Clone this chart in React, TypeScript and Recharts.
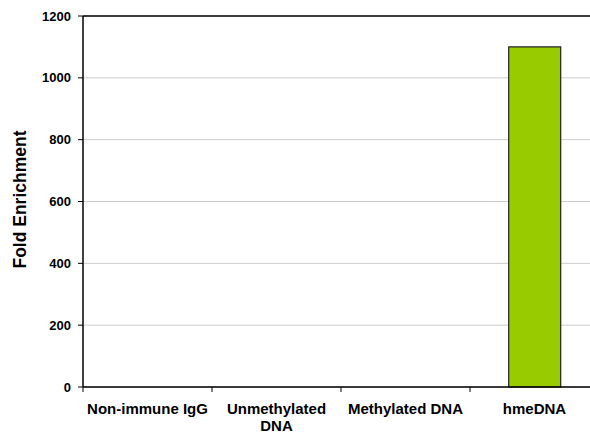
import { BarChart, Bar, XAxis, YAxis, CartesianGrid } from 'recharts'

const CATEGORIES = ['Non-immune IgG', 'Unmethylated\nDNA', 'Methylated DNA', 'hmeDNA']
const FOLD = [0, 0, 0, 1100]
const Y_TICKS = [0, 200, 400, 600, 800, 1000, 1200]

const FONT = '"Liberation Sans", Arial, Helvetica, sans-serif'
const Y_TICK = { fill: '#000', fontSize: 13, fontWeight: 700, fontFamily: FONT }
const X_TICK = { fontSize: 15, fontWeight: 700, fontFamily: FONT }

const data = CATEGORIES.map((label, i) => ({ label, value: FOLD[i] }))

// label centred in the band, tick mark on the band's left edge (Excel style)
function CategoryTick({ x, y, payload, width, visibleTicksCount }: any) {
  const half = payload.offset || width / visibleTicksCount / 2
  const lines = String(payload.value).split('\n')
  return (
    <g>
      <line x1={x - half} x2={x - half} y1={y} y2={y + 5} stroke="#000" strokeWidth={1} />
      <text x={x} y={y} textAnchor="middle" style={X_TICK} fill="#000">
        {lines.map((l, i) => (
          <tspan key={i} x={x} dy={i === 0 ? 27 : 17}>{l}</tspan>
        ))}
      </text>
    </g>
  )
}

const EmptyTick = () => <g />

function YLabel({ viewBox }: any) {
  const cx = 20
  const cy = viewBox.y + viewBox.height / 2 - 2
  return (
    <text x={cx} y={cy} transform={`rotate(-90 ${cx} ${cy})`} textAnchor="middle"
      dominantBaseline="central" fill="#000"
      style={{ fontSize: 17.5, fontWeight: 700, fontFamily: FONT }}>
      Fold Enrichment
    </text>
  )
}

export default function App() {
  return (
    <div style={{ position: 'absolute', left: 0, top: 0, width: 590, height: 435, overflow: 'hidden', background: '#fff' }}>
      <BarChart width={600} height={435} data={data} barCategoryGap="30%"
        margin={{ top: 15, right: 1, left: 0, bottom: 0 }}>
        <CartesianGrid vertical={false} stroke="#cccccc" strokeWidth={1} />
        <XAxis xAxisId="cat" dataKey="label" tick={<CategoryTick />} tickLine={false}
          axisLine={{ stroke: '#000', strokeWidth: 1.5 }} interval={0} tickSize={0} tickMargin={0}
          height={48} />
        <XAxis xAxisId="top" orientation="top" dataKey="label" tick={<EmptyTick />} tickLine={false}
          axisLine={{ stroke: '#000', strokeWidth: 1.5 }} height={1} />
        <YAxis domain={[0, 1200]} ticks={Y_TICKS} interval={0} width={83} tick={Y_TICK}
          tickSize={5} tickMargin={7} axisLine={{ stroke: '#000', strokeWidth: 1.5 }}
          tickLine={{ stroke: '#000' }} label={<YLabel />} />
        <Bar xAxisId="cat" dataKey="value" fill="#99cc00" stroke="#222" strokeWidth={1.2}
          isAnimationActive={false} />
      </BarChart>
    </div>
  )
}
